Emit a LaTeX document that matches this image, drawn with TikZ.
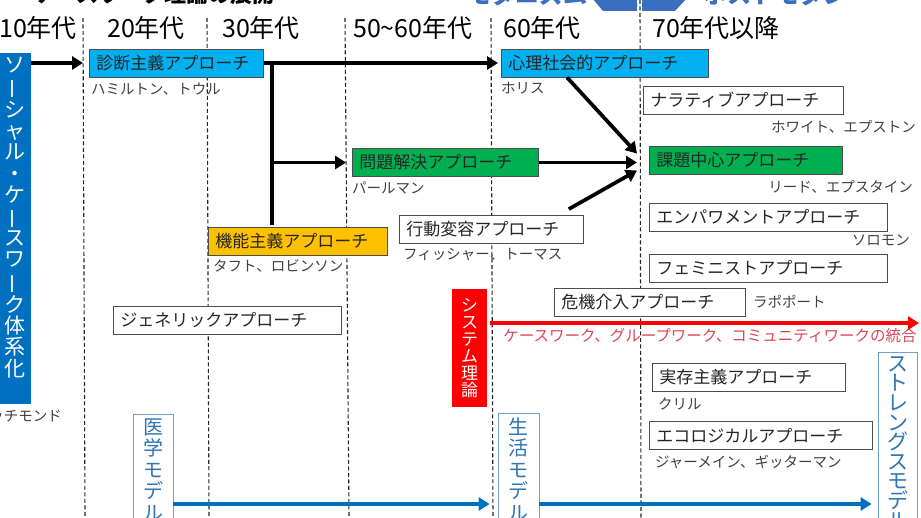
\documentclass[tikz,border=0pt]{standalone}
\usepackage{fontspec}
\setmainfont{Noto Sans CJK JP}
\usepackage{tikz}
\usetikzlibrary{arrows.meta,calc,positioning}
\definecolor{swblue}{HTML}{0070C0}
\definecolor{skyb}{HTML}{00B0F0}
\definecolor{kgreen}{HTML}{00B050}
\definecolor{kgold}{HTML}{FFC000}
\definecolor{kred}{HTML}{FF0000}
\definecolor{redtxt}{HTML}{DD4455}
\definecolor{mtext}{HTML}{2E75B6}
\definecolor{mline}{HTML}{6F9FCF}
\definecolor{topblue}{HTML}{3A6FC0}
\newcommand\tbar{\rotatebox[origin=c]{90}{ー}}

\begin{document}
\begin{tikzpicture}[x=1pt, y=-1pt,
		every node/.style={inner sep=0pt},
		epoch/.style={dash pattern=on 4pt off 2.5pt, line width=1.1pt, black!85},
		era/.style={font=\fontsize{25}{27}\selectfont, anchor=west},
		apbox/.style={draw=black!70, line width=.8pt, fill=white, anchor=west, minimum height=28pt,
			inner xsep=7pt, align=left, text=black!85, font=\fontsize{17}{19}\selectfont},
		who/.style={font=\fontsize{14.5}{16}\selectfont, text=black!75},
		tate/.style={align=center, anchor=north},
		mbox/.style={tate, draw=mline, line width=.8pt, fill=white, text=mtext, inner ysep=4pt},
		bk/.style={line width=3.7pt, -{Triangle[length=11pt,width=13pt]}},
		bl/.style={line width=3.2pt, swblue, -{Triangle[length=11pt,width=13pt]}},
		rd/.style={line width=3.2pt, kred, -{Triangle[length=11pt,width=13pt]}}
	]
	\useasboundingbox (0,0) rectangle (921,518);
	\draw[epoch] (83,18) -- (85,518);
	\draw[epoch] (207,18) -- (209,518);
	\draw[epoch] (345,18) -- (349,518);
	\draw[epoch] (491,18) -- (493,518);
	\draw[epoch] (640,0) -- (641,518);

	\node[font=\fontsize{22}{24}\selectfont\bfseries, anchor=base west] (ttl) at (33,3) {ケースワーク理論の展開};
	\node[font=\fontsize{24}{26}\selectfont\bfseries, text=topblue, anchor=base east] (modern) at (588,4) {モダニズム};
	\node[font=\fontsize{24}{26}\selectfont\bfseries, text=topblue, anchor=base west] (pmod) at (703,4) {ポストモダン};
	\fill[topblue] (637,11) -- (603,11) -- (592,-2) -- (603,-20) -- (637,-20) -- cycle;
	\fill[topblue] (642,11) -- (675,11) -- (687,-2) -- (675,-20) -- (642,-20) -- cycle;

	\node[era] (e10) at (-1,28) {10年代};
	\node[era] (e20) at (107,28) {20年代};
	\node[era] (e30) at (222,28) {30年代};
	\node[era] (e50) at (353,28) {50\textasciitilde 60年代};
	\node[era] (e60) at (503,28) {60年代};
	\node[era] (e70) at (652,28) {70年代以降};

	\node[fill=swblue, minimum width=31pt, minimum height=351pt, anchor=north] (sw) at (15.5,53) {};
	\node[tate, text=white, text width=22pt, font=\fontsize{21}{21.4}\selectfont] (swt) at (15.5,57)
		{ソ\\\tbar\\シ\\ャ\\ル\\・\\ケ\\\tbar\\ス\\ワ\\\tbar\\ク\\体\\系\\化};
	\node[who, anchor=east] (rich) at (62,416) {リッチモンド};

	\node[apbox, fill=skyb, text width=160pt] (shin) at (89,63) {診断主義アプローチ};
	\node[who, below=5pt of shin.south west, anchor=north west, xshift=2pt] (shinN) {ハミルトン、トウル};
	\node[apbox, fill=skyb, text width=193pt] (shinri) at (501,63) {心理社会的アプローチ};
	\node[who, below=5pt of shinri.south west, anchor=north west] (shinriN) {ホリス};
	\node[apbox, fill=kgreen, text width=172pt] (mondai) at (352,162.5) {問題解決アプローチ};
	\node[who, below=5pt of mondai.south west, anchor=north west] (mondaiN) {パールマン};
	\node[apbox, fill=kgold, text width=165pt] (kino) at (208,241.5) {機能主義アプローチ};
	\node[who, below=3pt of kino.south west, anchor=north west, xshift=5pt] (kinoN) {タフト、ロビンソン};
	\node[apbox, text width=170pt] (kodo) at (399,229.5) {行動変容アプローチ};
	\node[who, below=4pt of kodo.south west, anchor=north west, xshift=4pt] (kodoN) {フィッシャー、トーマス};
	\node[apbox, text width=214pt] (gene) at (113,320.5) {ジェネリックアプローチ};

	\node[apbox, text width=186pt] (narr) at (643,100) {ナラティブアプローチ};
	\node[who, anchor=east] (narrN) at (916,127) {ホワイト、エプストン};
	\node[apbox, fill=kgreen, text width=179pt] (kadai) at (649,160.5) {課題中心アプローチ};
	\node[who, anchor=east] (kadaiN) at (913,187) {リード、エプスタイン};
	\node[apbox, text width=224pt] (empo) at (649,217) {エンパワメントアプローチ};
	\node[who, anchor=east] (empoN) at (910,240) {ソロモン};
	\node[apbox, text width=224pt] (femi) at (649,268) {フェミニストアプローチ};
	\node[apbox, text width=177pt] (kiki) at (554,302) {危機介入アプローチ};
	\node[who, right=7pt of kiki.east, anchor=west] (kikiN) {ラポポート};
	\node[apbox, text width=179pt] (jitsu) at (652,377) {実存主義アプローチ};
	\node[who, below=6pt of jitsu.south west, anchor=north west, xshift=6pt] (jitsuN) {クリル};
	\node[apbox, text width=209pt] (eco) at (649,435.5) {エコロジカルアプローチ};
	\node[who, below=5pt of eco.south west, anchor=north west, xshift=6pt] (ecoN) {ジャーメイン、ギッターマン};

	\node[fill=kred, text=white, align=center, text width=18pt, minimum width=35pt, minimum height=118pt,
		font=\fontsize{17}{17}\selectfont] (sys) at (469.5,348) {シ\\ス\\テ\\ム\\理\\論};
	\coordinate (redend) at (919,323);
	\node[text=redtxt, font=\fontsize{15.5}{17}\selectfont] (togo) at (710,336) {ケースワーク、グループワーク、コミュニティワークの統合};

	\node[mbox, text width=20pt, minimum width=40pt, font=\fontsize{20}{21.5}\selectfont] (igaku) at (153,414) {医\\学\\モ\\デ\\ル};
	\node[mbox, text width=20pt, minimum width=41pt, font=\fontsize{20}{21.5}\selectfont] (seikatsu) at (518.5,413) {生\\活\\モ\\デ\\ル};
	\node[mbox, text width=21pt, minimum width=39pt, font=\fontsize{21}{19.6}\selectfont] (strength) at (897.5,352) {ス\\ト\\レ\\ン\\グ\\ス\\モ\\デ\\ル};
	\coordinate (blu) at (0,504);

	\coordinate (j1) at (272,63);
	\coordinate (kin) at ($(kadai.west)+(-12,0)$);
	\draw[bk, shorten >=6pt] (sw.east |- shin.west) -- (shin.west);
	\draw[bk, shorten >=3pt] (shin.east) -- (shinri.west);
	\draw[line width=3.7pt] (j1) -- ($(j1 |- kino.north)+(0,-2)$);
	\draw[bk, shorten >=6pt] (j1 |- mondai.west) -- (mondai.west);
	\draw[bk] ($(shinri.south west)+(66,0)$) -- ($(kin)+(0,-7)$);
	\draw[bk] (mondai.east) -- (mondai.east -| kin);
	\draw[bk] ($(kodo.north east)+(-15,-6)$) -- ($(kin)+(0,10)$);
	\draw[rd, shorten <=3pt] (sys.east |- redend) -- (redend);
	\draw[bl, shorten >=8pt] (igaku.east |- blu) -- (seikatsu.west |- blu);
	\draw[bl, shorten >=6pt] (seikatsu.east |- blu) -- (strength.west |- blu);
\end{tikzpicture}
\end{document}
